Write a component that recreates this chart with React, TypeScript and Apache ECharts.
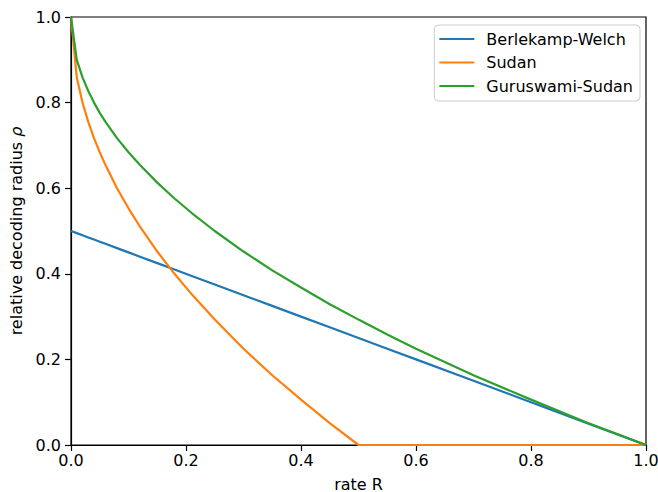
import React, { useEffect, useRef } from "react";
import * as echarts from "echarts";

const rates = [0, 0.01, 0.02, 0.03, 0.04, 0.05, 0.06, 0.08, 0.1, 0.12, 0.15, 0.18, 0.21, 0.25, 0.3, 0.35, 0.4, 0.45, 0.5, 0.55, 0.6, 0.7, 0.8, 0.9, 1.0];
const berlekampWelch = [0.5, 0.495, 0.49, 0.485, 0.48, 0.475, 0.47, 0.46, 0.45, 0.44, 0.425, 0.41, 0.395, 0.375, 0.35, 0.325, 0.3, 0.275, 0.25, 0.225, 0.2, 0.15, 0.1, 0.05, 0];
const sudan = [1, 0.859, 0.8, 0.755, 0.717, 0.684, 0.654, 0.6, 0.553, 0.51, 0.452, 0.4, 0.352, 0.293, 0.225, 0.163, 0.106, 0.051, 0, 0, 0, 0, 0, 0, 0];
const guruswamiSudan = [1, 0.9, 0.859, 0.827, 0.8, 0.776, 0.755, 0.717, 0.684, 0.654, 0.613, 0.576, 0.542, 0.5, 0.452, 0.408, 0.368, 0.329, 0.293, 0.258, 0.225, 0.163, 0.106, 0.051, 0];
const seriesNames = ["Berlekamp-Welch", "Sudan", "Guruswami-Sudan"];
const seriesColors = ["#1f77b4", "#ff7f0e", "#2ca02c"];

const FONT = "DejaVu Sans";

export default function App() {
  const ref = useRef<HTMLDivElement>(null);
  useEffect(() => {
    if (!ref.current) return;
    const chart = echarts.init(ref.current, undefined, { renderer: "svg" });
    const allValues = [berlekampWelch, sudan, guruswamiSudan];
    const axisCommon = {
      type: "value" as const,
      min: 0,
      max: 1,
      interval: 0.2,
      splitLine: { show: false },
      axisLine: { show: true, onZero: false, lineStyle: { color: "#000", width: 1.2 } },
      axisTick: { show: true, length: 6, lineStyle: { color: "#000", width: 1.2 } },
    };
    chart.setOption({
      animation: false,
      backgroundColor: "#fff",
      textStyle: { fontFamily: FONT, color: "#000" },
      grid: {
        left: 71,
        top: 17,
        width: 575,
        height: 428,
        show: true,
        borderColor: "#000",
        borderWidth: 1.2,
        containLabel: false,
        outerBoundsMode: "none",
      },
      legend: {
        orient: "vertical",
        right: 18,
        top: 25,
        data: seriesNames.map((name) => ({ name, icon: "rect", itemStyle: {} })),
        itemWidth: 35,
        itemHeight: 2.2,
        itemGap: 7.5,
        padding: [6, 7, 7, 5],
        backgroundColor: "rgba(255,255,255,0.8)",
        borderColor: "#cccccc",
        borderWidth: 1,
        borderRadius: 4,
        textStyle: { fontFamily: FONT, fontSize: 16, color: "#000", lineHeight: 16, padding: [0, 0, 0, 7] },
      },
      xAxis: {
        ...axisCommon,
        name: "rate R",
        nameLocation: "middle",
        nameGap: 33,
        nameTextStyle: { fontFamily: FONT, fontSize: 16, color: "#000", lineHeight: 12 },
        axisLabel: { margin: 7, fontFamily: FONT, fontSize: 16, color: "#000", formatter: (v: number) => v.toFixed(1) },
      },
      yAxis: {
        ...axisCommon,
        name: "{n|relative decoding radius }{i|ρ}",
        nameLocation: "middle",
        nameGap: 45,
        nameRotate: 90,
        nameTextStyle: {
          fontFamily: FONT,
          fontSize: 16,
          color: "#000",
          rich: {
            n: { fontFamily: FONT, fontSize: 16, color: "#000" },
            i: { fontFamily: FONT, fontSize: 16, color: "#000", fontStyle: "italic" },
          },
        },
        axisLabel: { margin: 10, fontFamily: FONT, fontSize: 16, color: "#000", formatter: (v: number) => v.toFixed(1) },
      },
      series: seriesNames.map((name, i) => ({
        name,
        type: "line",
        data: rates.map((r, k) => [r, allValues[i][k]]),
        symbol: "none",
        showSymbol: false,
        smooth: false,
        color: seriesColors[i],
        itemStyle: { color: seriesColors[i] },
        lineStyle: { color: seriesColors[i], width: 2.2 },
        clip: true,
      })),
    });
    return () => chart.dispose();
  }, []);
  return <div ref={ref} style={{ position: "absolute", left: 0, top: 0, width: 658, height: 492 }} />;
}
